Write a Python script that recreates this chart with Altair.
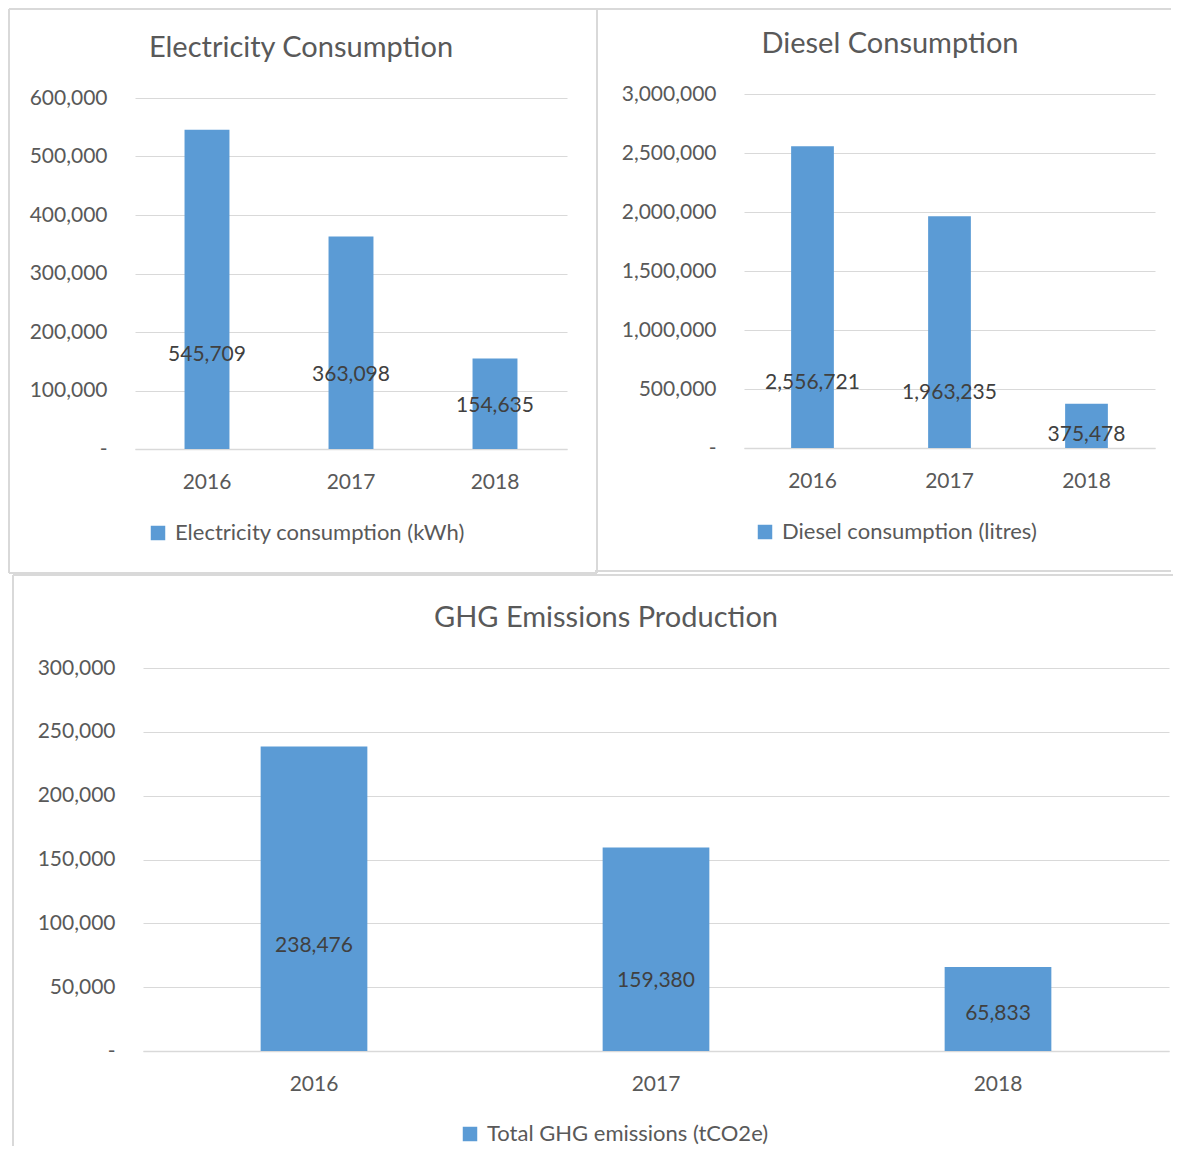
import altair as alt
import pandas as pd

# ---- data ----
years = ["2016", "2017", "2018"]

elec_values = [545709, 363098, 154635]
diesel_values = [2556721, 1963235, 375478]
ghg_values = [238476, 159380, 65833]

# where the value labels sit (in data units, as placed in the reference)
elec_label_at = [161000, 126800, 74300]
diesel_label_at = [553000, 463000, 111000]
ghg_label_at = [82400, 54500, 28700]

elec_title = "Electricity Consumption"
diesel_title = "Diesel Consumption"
ghg_title = "GHG Emissions Production"

elec_series = "Electricity consumption (kWh)"
diesel_series = "Diesel consumption (litres)"
ghg_series = "Total GHG emissions (tCO2e)"

BAR = "#5B9BD5"
GRID = "#D9D9D9"
TXT = "#595959"
LBL = "#404040"
FONT = "Lato"
NB = "\u00a0"


def rule_h(x1, x2, y, color=GRID):
    return alt.Chart(alt.Data(values=[{}])).mark_rule(color=color, strokeWidth=2).encode(
        x=alt.value(x1), x2=alt.value(x2), y=alt.value(y))


def rule_v(x, y1, y2, color=GRID):
    return alt.Chart(alt.Data(values=[{}])).mark_rule(color=color, strokeWidth=2).encode(
        x=alt.value(x), y=alt.value(y1), y2=alt.value(y2))


def panel(values, label_at, title, series, width, height, xrange, yrange,
          ymax, ystep, ypad, title_x, title_y, legend_x, legend_y, frame):
    df = pd.DataFrame({"year": years, "value": values,
                       "label_at": label_at, "series": [series] * len(years)})
    xenc = alt.X("year:N", sort=years, title=None,
                 scale=alt.Scale(range=xrange, paddingInner=0.688, paddingOuter=0.344),
                 axis=alt.Axis(labelAngle=0, ticks=False, tickSize=0, domain=True,
                               domainColor=GRID, domainWidth=1.5, grid=False,
                               labelPadding=22, labelBaseline="top",
                               labelFont=FONT, labelFontSize=21, labelColor=TXT))
    yenc = alt.Y("value:Q", title=None,
                 scale=alt.Scale(domain=[0, ymax], nice=False, range=yrange),
                 axis=alt.Axis(values=list(range(0, ymax + 1, ystep)),
                               labelExpr="datum.value == 0 ? '-" + NB * 3 + "' : format(datum.value, ',')",
                               ticks=False, tickSize=0, domain=False, grid=True,
                               gridColor=GRID, gridWidth=1, labelPadding=ypad,
                               labelFont=FONT, labelFontSize=21, labelColor=TXT))
    base = alt.Chart(df)
    bars = base.mark_bar().encode(
        x=xenc, y=yenc,
        color=alt.Color("series:N",
                        scale=alt.Scale(range=[BAR]),
                        legend=alt.Legend(orient="none", legendX=legend_x, legendY=legend_y,
                                          title=None, symbolType="square", symbolSize=210,
                                          symbolStrokeWidth=0, labelFont=FONT,
                                          labelFontSize=22, labelColor=TXT,
                                          labelOffset=6, padding=0, labelLimit=800,
                                          direction="horizontal")))
    labels = base.mark_text(font=FONT, fontSize=21, color=LBL, baseline="middle").encode(
        x=alt.X("year:N", sort=years),
        y=alt.Y("label_at:Q", title=None),
        text=alt.Text("value:Q", format=","))
    ttl = alt.Chart(alt.Data(values=[{}])).mark_text(
        text=title, font=FONT, fontSize=29, color=TXT,
        baseline="alphabetic", align="center").encode(
        x=alt.value(title_x), y=alt.value(title_y))
    return alt.layer(*frame, bars, labels, ttl).properties(width=width, height=height)


p1 = panel(elec_values, elec_label_at, elec_title, elec_series,
           432, 351, [0, 432], [351, 0], 600000, 100000, 28,
           166, -41, 12, 424,
           [rule_h(-126, 462, -89), rule_v(-126, -89, 475), rule_h(-126, 462, 475),
            rule_v(462, -89, 475)])

p2 = panel(diesel_values, diesel_label_at, diesel_title, diesel_series,
           411, 350, [0, 411], [350, -4], 3000000, 500000, 28,
           146, -45, 10, 423,
           [rule_h(-149, 427, -89), rule_h(-149, 427, 473)])

p3 = panel(ghg_values, ghg_label_at, ghg_title, ghg_series,
           1034, 383, [8, 1034], [383, 0], 300000, 50000, 20,
           471, -41, 324, 455,
           [rule_v(-122, -93, 478), rule_h(-122, 1038, -93)])

top = alt.hconcat(p1, p2, spacing=-4).resolve_scale(
    x="independent", y="independent", color="independent").resolve_legend(color="independent")

chart = alt.vconcat(top, p3, spacing=0).resolve_scale(
    x="independent", y="independent", color="independent").resolve_legend(
    color="independent").configure(padding=0, font=FONT).configure_view(stroke=None)

chart.save("out.html", embed_options={"renderer": "svg", "actions": False})
